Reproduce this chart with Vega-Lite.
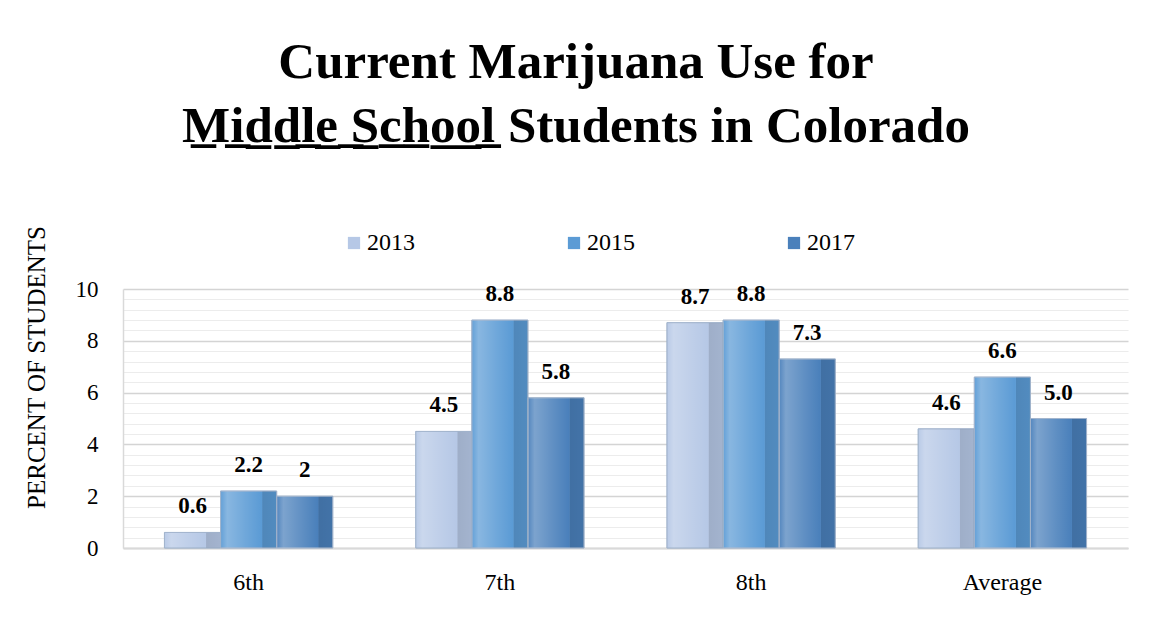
{
  "$schema": "https://vega.github.io/schema/vega-lite/v6.json",
  "width": 1005,
  "height": 259,
  "autosize": {"type": "none"},
  "padding": {"left": 123, "top": 289, "right": 23, "bottom": 75},
  "background": "white",
  "title": {
    "text": ["Current Marijuana Use for", "M̲i̲d̲d̲l̲e̲ ̲S̲c̲h̲o̲o̲l̲ Students in Colorado"],
    "font": "Liberation Serif",
    "fontSize": 51,
    "fontWeight": "bold",
    "color": "black",
    "lineHeight": 64,
    "frame": "bounds",
    "anchor": "middle",
    "offset": 72
  },
  "data": {
    "values": [
      {"grade": "6th", "year": "2013", "value": 0.6, "label": "0.6"},
      {"grade": "6th", "year": "2015", "value": 2.2, "label": "2.2"},
      {"grade": "6th", "year": "2017", "value": 2.0, "label": "2"},
      {"grade": "7th", "year": "2013", "value": 4.5, "label": "4.5"},
      {"grade": "7th", "year": "2015", "value": 8.8, "label": "8.8"},
      {"grade": "7th", "year": "2017", "value": 5.8, "label": "5.8"},
      {"grade": "8th", "year": "2013", "value": 8.7, "label": "8.7"},
      {"grade": "8th", "year": "2015", "value": 8.8, "label": "8.8"},
      {"grade": "8th", "year": "2017", "value": 7.3, "label": "7.3"},
      {"grade": "Average", "year": "2013", "value": 4.6, "label": "4.6"},
      {"grade": "Average", "year": "2015", "value": 6.6, "label": "6.6"},
      {"grade": "Average", "year": "2017", "value": 5.0, "label": "5.0"}
    ]
  },
  "encoding": {
    "x": {
      "field": "grade",
      "type": "nominal",
      "sort": ["6th", "7th", "8th", "Average"],
      "scale": {"paddingInner": 0.33, "paddingOuter": 0.165},
      "axis": {
        "title": null,
        "labelAngle": 0,
        "labelFont": "Liberation Serif",
        "labelFontSize": 24,
        "labelColor": "black",
        "labelPadding": 22,
        "ticks": false,
        "domain": true,
        "domainColor": "#d9d9d9",
        "domainWidth": 2,
        "grid": false
      }
    },
    "xOffset": {
      "field": "year",
      "type": "nominal",
      "scale": {"paddingInner": 0, "paddingOuter": 0}
    },
    "y": {
      "field": "value",
      "type": "quantitative",
      "scale": {"domain": [0, 10], "nice": false},
      "axis": {
        "values": [0, 0.4, 0.8, 1.2, 1.6, 2, 2.4, 2.8, 3.2, 3.6, 4, 4.4, 4.8, 5.2, 5.6, 6, 6.4, 6.8, 7.2, 7.6, 8, 8.4, 8.8, 9.2, 9.6, 10],
        "format": "~g",
        "labelExpr": "datum.value % 2 === 0 ? datum.label : ''",
        "grid": true,
        "gridColor": {"condition": {"test": "datum.value % 2 === 0", "value": "#d4d4d4"}, "value": "#ececec"},
        "gridWidth": {"condition": {"test": "datum.value % 2 === 0", "value": 1.5}, "value": 1.2},
        "ticks": false,
        "domain": true,
        "domainColor": "#d9d9d9",
        "domainWidth": 1.5,
        "labelFont": "Liberation Serif",
        "labelFontSize": 23,
        "labelColor": "black",
        "labelPadding": 25,
        "title": "PERCENT OF STUDENTS",
        "titleFont": "Liberation Serif",
        "titleFontSize": 25,
        "titleFontWeight": "normal",
        "titleColor": "black",
        "titleAngle": -90,
        "titleAlign": "center",
        "titleBaseline": "alphabetic",
        "titleX": -79,
        "titleY": 78
      }
    }
  },
  "layer": [
    {
      "mark": {"type": "bar", "stroke": "#9fb3cc", "strokeWidth": 0.8},
      "encoding": {
        "color": {
          "field": "year",
          "type": "nominal",
          "scale": {"domain": ["2013", "2015", "2017"], "range": ["#b6c8e6", "#5b9bd5", "#4a80bb"]},
          "legend": {
            "title": null,
            "orient": "none",
            "direction": "horizontal",
            "legendX": 219,
            "legendY": -58,
            "columnPadding": 147,
            "symbolType": "square",
            "symbolSize": 150,
            "symbolStrokeWidth": 0,
            "labelFont": "Liberation Serif",
            "labelFontSize": 24,
            "labelColor": "black",
            "labelOffset": 1
          }
        }
      }
    },
    {
      "mark": {
        "type": "bar",
        "fill": {
          "gradient": "linear",
          "x1": 0, "y1": 0, "x2": 1, "y2": 0,
          "stops": [
            {"offset": 0, "color": "rgba(255,255,255,0.05)"},
            {"offset": 0.12, "color": "rgba(255,255,255,0.28)"},
            {"offset": 0.45, "color": "rgba(255,255,255,0.12)"},
            {"offset": 0.73, "color": "rgba(255,255,255,0.0)"},
            {"offset": 0.75, "color": "rgba(0,0,0,0.13)"},
            {"offset": 1, "color": "rgba(0,0,0,0.10)"}
          ]
        },
        "stroke": "#9fb3cc",
        "strokeWidth": 0.8
      },
      "encoding": {}
    },
    {
      "mark": {"type": "text", "dy": -19, "baseline": "alphabetic", "font": "Liberation Serif", "fontSize": 23, "fontWeight": "bold", "color": "black"},
      "encoding": {"text": {"field": "label", "type": "nominal"}}
    }
  ],
  "config": {"view": {"stroke": null}}
}
